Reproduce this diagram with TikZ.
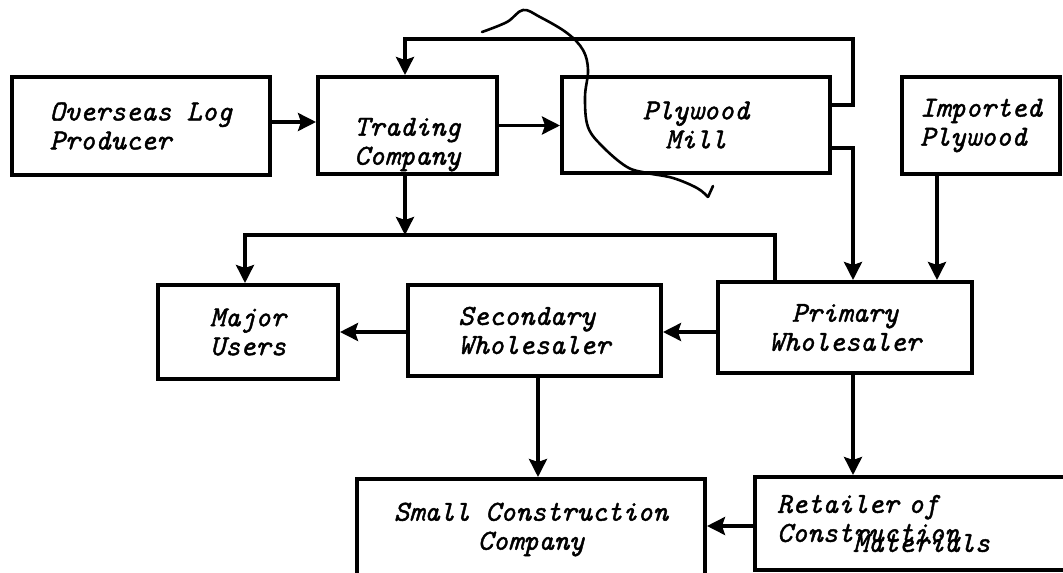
\documentclass[tikz,border=0pt]{standalone}
\usepackage{fontspec}
\usetikzlibrary{arrows.meta}
\newfontfamily\handfam[FakeBold=1.5]{lmmono10-italic.otf}
\newcommand\handfont{\handfam\fontsize{29}{29}\selectfont}
\tikzset{
  box/.style={draw, rectangle, line width=4pt, inner sep=0pt, font=\handfont},
  conn/.style={line width=3.3pt},
  arr/.style={conn, -{Stealth[length=18pt,width=18pt,inset=3pt]}},
  scrawl/.style={line width=2.6pt, line cap=round, line join=round},
}
\begin{document}
\begin{tikzpicture}[x=1pt,y=-1pt]
\useasboundingbox (0,0) rectangle (1063,573);
\fill[white] (0,0) rectangle (1063,573);
\clip (0,0) rectangle (1063,573);

% boxes
\node[box, align=left, minimum width=258pt, minimum height=98pt] (over) at (141,126) {Overseas Log\\Producer};
\node[box, align=left, minimum width=179pt, minimum height=97pt] (trade) at (407.5,125.5) {\rule{0pt}{56pt}Trading\\Company};
\node[box, align=center, minimum width=268pt, minimum height=96pt] (ply) at (696,125) {Plywood\\Mill};
\node[box, align=left, minimum width=158pt, minimum height=97pt] (imp) at (981,125.5) {Imported\\Plywood};
\node[box, align=left, minimum width=180pt, minimum height=94pt] (major) at (248,332) {Major\\Users};
\node[box, align=left, minimum width=253pt, minimum height=91pt] (second) at (534.5,330.5) {Secondary\\Wholesaler};
\node[box, align=center, minimum width=254pt, minimum height=91pt] (primary) at (845,327.5) {Primary\\Wholesaler};
\node[box, align=center, minimum width=348pt, minimum height=101pt] (small) at (531,529.5) {Small Construction\\Company};
\node[box, align=left, text width=276pt, inner xsep=22pt, minimum height=93pt] (retail) at (915,523.5) {Retailer of\\Construction\\[-19pt]\hspace*{76pt}Materials};

% helper coordinates
\coordinate (fbR) at (853,39);
\coordinate (busL) at (245,235);
\coordinate (busR) at (775,235);
\coordinate (oe) at ([yshift=4pt]over.east);
\coordinate (tOut) at ([xshift=-2.5pt]trade.south);
\coordinate (impOut) at ([xshift=-44pt]imp.south);
\coordinate (pw) at ([yshift=-4.5pt]primary.west);
\coordinate (sw) at ([yshift=-1.5pt]second.west);
\coordinate (ss) at ([xshift=3.5pt]second.south);
\coordinate (ps) at ([xshift=8pt]primary.south);
\coordinate (rw) at ([yshift=-2.5pt]retail.west);

% connectors
\draw[arr] (oe) -- (oe -| trade.west);
\draw[arr] (trade.east) -- (trade.east -| ply.west);
\draw[arr] ([yshift=20pt]ply.east) -| (fbR) -| ([xshift=-2.5pt]trade.north);
\draw[arr] ([yshift=-23pt]ply.east) -| ([xshift=8pt]primary.north);
\draw[arr] (impOut) -- (impOut |- primary.north);
\draw[arr] (tOut) -- (tOut |- busL);
\draw[arr] (primary.north -| busR) |- (busL) -- (busL |- major.north);
\draw[arr] (pw) -- (pw -| second.east);
\draw[arr] (sw) -- (sw -| major.east);
\draw[arr] (ss) -- (ss |- small.north);
\draw[arr] (ps) -- (ps |- retail.north);
\draw[arr] (rw) -- (rw -| small.east);

% hand-drawn scrawl
\draw[scrawl] plot[smooth, tension=0.6] coordinates {(482,32) (507,22) (523,10) (540,17) (567,33) (583,50) (588,70) (585,97) (588,127) (603,147) (627,167) (647,173) (673,178) (697,188) (708,197)};
\draw[scrawl] (708,197) -- (713,186);
\end{tikzpicture}
\end{document}
